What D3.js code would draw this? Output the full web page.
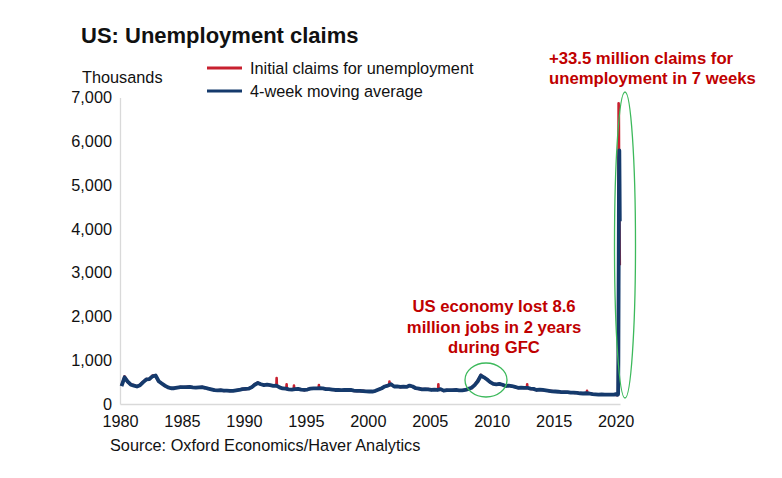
<!DOCTYPE html>
<html>
<head>
<meta charset="utf-8">
<script src="https://cdn.jsdelivr.net/npm/d3@7"></script>
<style>
    body { margin: 0; background: #fff; }
    text { font-family: "Liberation Sans", Arial, sans-serif; }
</style>
</head>
<body>
<div id="chart"></div>
<script>
// 0.data (thousands of claims)
var tickYears = [1980, 1985, 1990, 1995, 2000, 2005, 2010, 2015, 2020];
var yTicks = [0, 1000, 2000, 3000, 4000, 5000, 6000, 7000];

// quarterly readings 1980Q1 .. 2019Q4
var firstYear = 1980;
var avgQuarterly = [
    410, 610, 510, 440,  420, 400, 430, 500,  560, 570, 630, 650,  520, 470, 420, 380,
    360, 360, 375, 385,  385, 385, 390, 380,  375, 380, 385, 370,  350, 335, 315, 310,
    315, 305, 305, 300,  300, 310, 320, 340,  345, 350, 380, 440,  480, 450, 430, 440,
    430, 415, 420, 380,  355, 350, 335, 330,  340, 345, 330, 320,  330, 350, 355, 355,
    360, 355, 340, 340,  330, 320, 320, 315,  320, 320, 320, 305,  300, 300, 295, 290,
    285, 285, 300, 330,  360, 400, 420, 450,  400, 400, 390, 395,  390, 420, 400, 360,
    350, 335, 340, 335,  320, 330, 320, 340,  305, 315, 315, 315,  320, 310, 310, 320,
    345, 370, 430, 520,  650, 610, 560, 500,  460, 450, 460, 440,  410, 420, 410, 390,
    370, 375, 370, 370,  350, 345, 320, 330,  320, 310, 300, 290,  285, 280, 270, 270,
    270, 260, 260, 255,  245, 240, 245, 240,  225, 220, 215, 220,  215, 215, 215, 215
];
var claimsQuarterly = [
    420, 630, 500, 450,  430, 395, 440, 510,  570, 560, 650, 640,  510, 475, 410, 385,
    355, 365, 370, 390,  380, 390, 395, 375,  380, 375, 390, 365,  355, 330, 320, 305,
    320, 300, 310, 295,  305, 315, 325, 345,  340, 355, 385, 450,  490, 445, 435, 445,
    425, 420, 415, 385,  350, 355, 330, 335,  345, 340, 335, 315,  335, 355, 350, 360,
    365, 350, 345, 335,  335, 315, 325, 310,  325, 315, 325, 300,  305, 295, 300, 285,
    290, 280, 305, 335,  355, 405, 425, 455,  395, 405, 385, 400,  395, 425, 395, 365,
    345, 340, 335, 340,  325, 325, 325, 335,  300, 320, 310, 320,  325, 305, 315, 325,
    350, 365, 440, 535,  665, 605, 565, 495,  465, 445, 465, 435,  415, 425, 405, 395,
    365, 380, 365, 375,  345, 350, 315, 335,  315, 315, 295, 295,  280, 285, 265, 275,
    265, 265, 255, 260,  240, 245, 240, 245,  230, 215, 220, 215,  220, 210, 220, 210
];
// one-week jumps in initial claims: date, level around it, peak
var spikeDates = ["1992-08-22", "1993-06-12", "1994-01-15", "1996-01-20", "2001-09-29", "2005-09-10", "2012-11-10", "2017-09-09"];
var spikeBase = [410, 345, 340, 360, 430, 330, 370, 245];
var spikePeak = [590, 450, 420, 430, 510, 450, 450, 300];

// weekly 2020
var weeks2020 = ["2020-01-04", "2020-01-11", "2020-01-18", "2020-01-25", "2020-02-01", "2020-02-08",
    "2020-02-15", "2020-02-22", "2020-02-29", "2020-03-07", "2020-03-14", "2020-03-21",
    "2020-03-28", "2020-04-04", "2020-04-11", "2020-04-18", "2020-04-25", "2020-05-02"];
var claims2020 = [214, 207, 223, 216, 203, 206, 220, 219, 217, 211, 282, 3307, 6867, 6615, 5237, 4442, 3846, 3169];
var avg2020 = [225, 224, 216, 213, 212, 212, 212, 210, 215, 217, 232, 1005, 2667, 4268, 5507, 5790, 5035, 4174];

// 0.1.size
var svgBGW = 782, svgBGH = 478;
var plotL = 120, plotR = 620, plotT = 97.4, plotB = 404;

// 0.2.color
var red = "#c8202f", blue = "#153a6c", annot = "#c00000", green = "#3cb95b", axisGrey = "#d9d9d9";

var parse = d3.timeParse("%Y-%m-%d");

// 1.build series
var avgSeries = [], claimsSeries = [];
avgQuarterly.forEach(function (v, i) {
    avgSeries.push({date: new Date(firstYear + Math.floor(i / 4), (i % 4) * 3 + 1, 15), value: v});
});
claimsQuarterly.forEach(function (v, i) {
    claimsSeries.push({date: new Date(firstYear + Math.floor(i / 4), (i % 4) * 3 + 1, 15), value: v});
});
spikeDates.forEach(function (d, i) {
    var t = parse(d);
    claimsSeries.push({date: d3.timeDay.offset(t, -7), value: spikeBase[i]});
    claimsSeries.push({date: t, value: spikePeak[i]});
    claimsSeries.push({date: d3.timeDay.offset(t, 7), value: spikeBase[i]});
});
weeks2020.forEach(function (d, i) {
    avgSeries.push({date: parse(d), value: avg2020[i]});
    claimsSeries.push({date: parse(d), value: claims2020[i]});
});
claimsSeries.sort(function (a, b) { return a.date - b.date; });

// 2.scales
var xScale = d3.scaleTime()
    .domain([new Date(1980, 0, 1), new Date(2020, 4, 8)])
    .range([plotL, plotR]);
var yScale = d3.scaleLinear()
    .domain([0, 7000])
    .range([plotB, plotT]);

var svg = d3.select("#chart").append("svg")
    .attr("width", svgBGW).attr("height", svgBGH);

// 3.axes
var axisX = svg.append("g")
    .attr("transform", "translate(0," + plotB + ")")
    .call(d3.axisBottom(xScale)
        .tickValues(tickYears.map(function (y) { return new Date(y, 0, 1); }))
        .tickFormat(d3.timeFormat("%Y"))
        .tickSize(0).tickPadding(11));
axisX.select(".domain").attr("stroke", axisGrey).attr("stroke-width", 1.3);
axisX.selectAll("text").attr("font-size", "16.3px").attr("fill", "#111")
    .attr("font-family", "Liberation Sans, Arial, sans-serif");

var axisY = svg.append("g")
    .attr("transform", "translate(" + plotL + ",0)")
    .call(d3.axisLeft(yScale)
        .tickValues(yTicks)
        .tickFormat(d3.format(","))
        .tickSize(0).tickPadding(8));
axisY.select(".domain").attr("stroke", axisGrey).attr("stroke-width", 1.3);
axisY.selectAll("text").attr("font-size", "16.3px").attr("fill", "#111")
    .attr("font-family", "Liberation Sans, Arial, sans-serif");

// 4.lines
var line = d3.line()
    .x(function (d) { return xScale(d.date); })
    .y(function (d) { return yScale(d.value); });

svg.append("path").datum(claimsSeries)
    .attr("d", line).attr("fill", "none")
    .attr("stroke", red).attr("stroke-width", 2.6)
    .attr("stroke-linejoin", "round");
svg.append("path").datum(avgSeries)
    .attr("d", line).attr("fill", "none")
    .attr("stroke", blue).attr("stroke-width", 3.8)
    .attr("stroke-linejoin", "round");

// 5.titles and legend
svg.append("text").attr("x", 81).attr("y", 43)
    .attr("font-size", "22px").attr("font-weight", "bold").attr("fill", "#111")
    .text("US: Unemployment claims");
svg.append("text").attr("x", 82).attr("y", 83)
    .attr("font-size", "16.3px").attr("fill", "#111")
    .text("Thousands");

var legendKeys = ["Initial claims for unemployment", "4-week moving average"];
var legendColors = [red, blue];
var legend = svg.append("g").selectAll("g")
    .data(legendKeys).enter().append("g")
    .attr("transform", function (d, i) { return "translate(0," + (68 + i * 23) + ")"; });
legend.append("line")
    .attr("x1", 207).attr("x2", 242)
    .attr("stroke", function (d, i) { return legendColors[i]; })
    .attr("stroke-width", 3);
legend.append("text")
    .attr("x", 250).attr("y", 5.5)
    .attr("font-size", "16.3px").attr("fill", "#111")
    .text(function (d) { return d; });

// 6.annotations
svg.append("ellipse")
    .attr("cx", 625).attr("cy", 245).attr("rx", 10.5).attr("ry", 153)
    .attr("fill", "none").attr("stroke", green).attr("stroke-width", 1.3);
svg.append("ellipse")
    .attr("cx", 486).attr("cy", 380).attr("rx", 21).attr("ry", 17)
    .attr("fill", "none").attr("stroke", green).attr("stroke-width", 1.3);

var spikeNote = ["+33.5 million claims for", "unemployment in 7 weeks"];
svg.append("g").selectAll("text")
    .data(spikeNote).enter().append("text")
    .attr("x", 549).attr("y", function (d, i) { return 64 + i * 20; })
    .attr("font-size", "16.7px").attr("font-weight", "bold").attr("fill", annot)
    .text(function (d) { return d; });

var gfcNote = ["US economy lost 8.6", "million jobs in 2 years", "during GFC"];
svg.append("g").selectAll("text")
    .data(gfcNote).enter().append("text")
    .attr("x", 494).attr("y", function (d, i) { return 312 + i * 20.5; })
    .attr("text-anchor", "middle")
    .attr("font-size", "16.7px").attr("font-weight", "bold").attr("fill", annot)
    .text(function (d) { return d; });

svg.append("text").attr("x", 110).attr("y", 451)
    .attr("font-size", "16.3px").attr("fill", "#111")
    .text("Source: Oxford Economics/Haver Analytics");
</script>
</body>
</html>
